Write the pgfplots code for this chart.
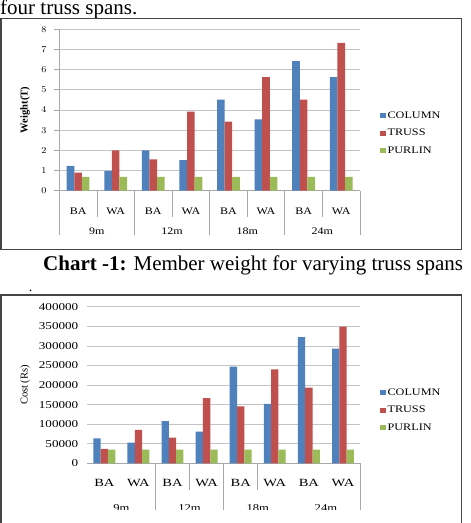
\documentclass[border=0pt]{standalone}
\usepackage{pgfplots}
\usepackage{pgfplotstable}
\pgfplotsset{compat=1.18}
\usepackage{fontspec}
\setmainfont{Liberation Serif}

\definecolor{cblue}{HTML}{4F81BD}
\definecolor{cred}{HTML}{C0504D}
\definecolor{cgreen}{HTML}{9BBB59}
\definecolor{framec}{HTML}{454545}
\definecolor{gridc}{HTML}{C4C4C4}
\definecolor{sepc}{HTML}{A8A8A8}

\pgfplotstableread{
x col truss purlin
0 1.23 0.90 0.68
1 0.98 2.00 0.68
2 2.00 1.55 0.68
3 1.52 3.92 0.68
4 4.52 3.43 0.68
5 3.53 5.63 0.68
6 6.42 4.52 0.68
7 5.63 7.33 0.68
}\weighttable

\pgfplotstableread{
x col truss purlin
0 64000 36800 35000
1 53000 85500 35000
2 107700 65800 35000
3 81200 166700 35000
4 247000 145300 35000
5 152000 240000 35000
6 322000 193000 35000
7 293000 349000 35000
}\costtable

\pgfplotsset{chartstyle/.style={
  scale only axis, anchor=south west,
  ybar=0pt,
  xmin=-0.5, xmax=7.5, ymin=0,
  xtick={0,...,7},
  xticklabels={BA,WA,BA,WA,BA,WA,BA,WA},
  xtick style={draw=none},
  xticklabel style={anchor=center, font=\fontsize{10}{12}\selectfont, xscale=1.2},
  ymajorgrids, grid style={gridc, line width=0.7pt},
  axis x line*=bottom, axis y line*=left,
  x axis line style={-, sepc, line width=0.7pt},
  clip=false,
  legend cell align=left,
  legend style={draw=none, fill=none, inner sep=0pt, row sep=5.5pt,
    font=\fontsize{10}{11}\selectfont, anchor=west},
  legend image code/.code={\fill[#1] (0pt,-2.6pt) rectangle (5.4pt,2.6pt);},
}}

\begin{document}
\begin{tikzpicture}
\useasboundingbox (0pt,0pt) rectangle (471pt,-523pt);
\fill[white] (0pt,0pt) rectangle (471pt,-523pt);

% surrounding text
\node[anchor=base west, inner sep=0pt, font=\fontsize{21}{21}\selectfont] at (0pt,-14pt) {four truss spans.};
\node[anchor=base west, inner sep=0pt, font=\fontsize{21}{21}\selectfont] at (43pt,-270.5pt) {\textbf{Chart -1:} Member weight for varying truss spans};
\node[anchor=base, inner sep=0pt, font=\fontsize{14}{14}\selectfont] at (30.5pt,-291.5pt) {.};

% frames
\draw[framec, line width=1.4pt] (1pt,-18.3pt) rectangle (461.7pt,-249.7pt);
\draw[framec, line width=1.4pt] (1pt,-530pt) -- (1pt,-295pt) -- (461.7pt,-295pt) -- (461.7pt,-530pt);

% ---------- Chart 1: weight ----------
\begin{axis}[chartstyle,
  at={(59.3pt,-190.7pt)},
  width=300.7pt, height=161.4pt,
  ymax=8, ytick={0,1,...,8},
  bar width=7.6pt,
  y axis line style={-, sepc, line width=0.7pt},
  ytick style={sepc, line width=0.7pt},
  tick align=outside, major tick length=5pt,
  xticklabel style={yshift=-15.3pt},
  yticklabel style={font=\fontsize{9}{10}\selectfont, xscale=1.1, inner sep=0pt, anchor=east, xshift=-7pt},
  ylabel={Weight(T)},
  ylabel style={font=\bfseries\fontsize{10.5}{12}\selectfont, at={(axis description cs:-0.114,0.5)}, anchor=center},
  legend style={at={(1,0.357)}, xshift=20pt},
]
\addplot[fill=cblue, draw=none] table[x=x, y=col] {\weighttable};
\addplot[fill=cred, draw=none] table[x=x, y=truss] {\weighttable};
\addplot[fill=cgreen, draw=none] table[x=x, y=purlin] {\weighttable};
\addlegendentry{\scalebox{1.22}[1]{COLUMN}}
\addlegendentry{\scalebox{1.22}[1]{TRUSS}}
\addlegendentry{\scalebox{1.22}[1]{PURLIN}}
\draw[sepc, line width=0.7pt] (axis cs:-0.5,0) -- ++(0pt,-44pt);
\draw[sepc, line width=0.7pt] (axis cs:1.5,0) -- ++(0pt,-44pt);
\draw[sepc, line width=0.7pt] (axis cs:3.5,0) -- ++(0pt,-44pt);
\draw[sepc, line width=0.7pt] (axis cs:5.5,0) -- ++(0pt,-44pt);
\draw[sepc, line width=0.7pt] (axis cs:7.5,0) -- ++(0pt,-44pt);
\draw[sepc, line width=0.7pt] (axis cs:0.5,0) -- ++(0pt,-26pt);
\draw[sepc, line width=0.7pt] (axis cs:2.5,0) -- ++(0pt,-26pt);
\draw[sepc, line width=0.7pt] (axis cs:4.5,0) -- ++(0pt,-26pt);
\draw[sepc, line width=0.7pt] (axis cs:6.5,0) -- ++(0pt,-26pt);
\node[font=\fontsize{10}{12}\selectfont, xscale=1.2, yshift=-40.3pt] at (axis cs:0.5,0) {9m};
\node[font=\fontsize{10}{12}\selectfont, xscale=1.2, yshift=-40.3pt] at (axis cs:2.5,0) {12m};
\node[font=\fontsize{10}{12}\selectfont, xscale=1.2, yshift=-40.3pt] at (axis cs:4.5,0) {18m};
\node[font=\fontsize{10}{12}\selectfont, xscale=1.2, yshift=-40.3pt] at (axis cs:6.5,0) {24m};
\end{axis}

% ---------- Chart 2: cost ----------
\begin{scope}
\clip (0pt,0pt) rectangle (471pt,-509.5pt);
\begin{axis}[chartstyle,
  at={(87.3pt,-463.3pt)},
  width=272.7pt, height=156.6pt,
  ymax=400000, ytick={0,50000,...,400000},
  scaled y ticks=false,
  yticklabels={0,50000,100000,150000,200000,250000,300000,350000,400000},
  bar width=7.3pt,
  y axis line style={draw=none},
  ytick style={draw=none},
  xticklabel style={yshift=-15.7pt, font=\fontsize{11}{12}\selectfont, xscale=1.1},
  yticklabel style={font=\fontsize{10.5}{12}\selectfont, xscale=1.25, inner sep=0pt, anchor=east, xshift=-7pt},
  ylabel={Cost (Rs)},
  ylabel style={font=\fontsize{10.5}{12}\selectfont, at={(axis description cs:-0.2285,0.5)}, anchor=center},
  legend style={at={(1,0.34)}, xshift=20pt},
]
\addplot[fill=cblue, draw=none] table[x=x, y=col] {\costtable};
\addplot[fill=cred, draw=none] table[x=x, y=truss] {\costtable};
\addplot[fill=cgreen, draw=none] table[x=x, y=purlin] {\costtable};
\addlegendentry{\scalebox{1.22}[1]{COLUMN}}
\addlegendentry{\scalebox{1.22}[1]{TRUSS}}
\addlegendentry{\scalebox{1.22}[1]{PURLIN}}
\draw[sepc, line width=0.7pt] (axis cs:1.5,0) -- ++(0pt,-50pt);
\draw[sepc, line width=0.7pt] (axis cs:3.5,0) -- ++(0pt,-50pt);
\draw[sepc, line width=0.7pt] (axis cs:7.5,0) -- ++(0pt,-50pt);
\draw[sepc, line width=0.7pt] (axis cs:2.5,0) -- ++(0pt,-27pt);
\draw[sepc, line width=0.7pt] (axis cs:4.5,0) -- ++(0pt,-27pt);
\node[font=\fontsize{10.5}{12}\selectfont, xscale=1.2, yshift=-44.7pt] at (axis cs:0.5,0) {9m};
\node[font=\fontsize{10.5}{12}\selectfont, xscale=1.2, yshift=-44.7pt] at (axis cs:2.5,0) {12m};
\node[font=\fontsize{10.5}{12}\selectfont, xscale=1.2, yshift=-44.7pt] at (axis cs:4.5,0) {18m};
\node[font=\fontsize{10.5}{12}\selectfont, xscale=1.2, yshift=-44.7pt] at (axis cs:6.5,0) {24m};
\end{axis}
\end{scope}
\end{tikzpicture}
\end{document}
